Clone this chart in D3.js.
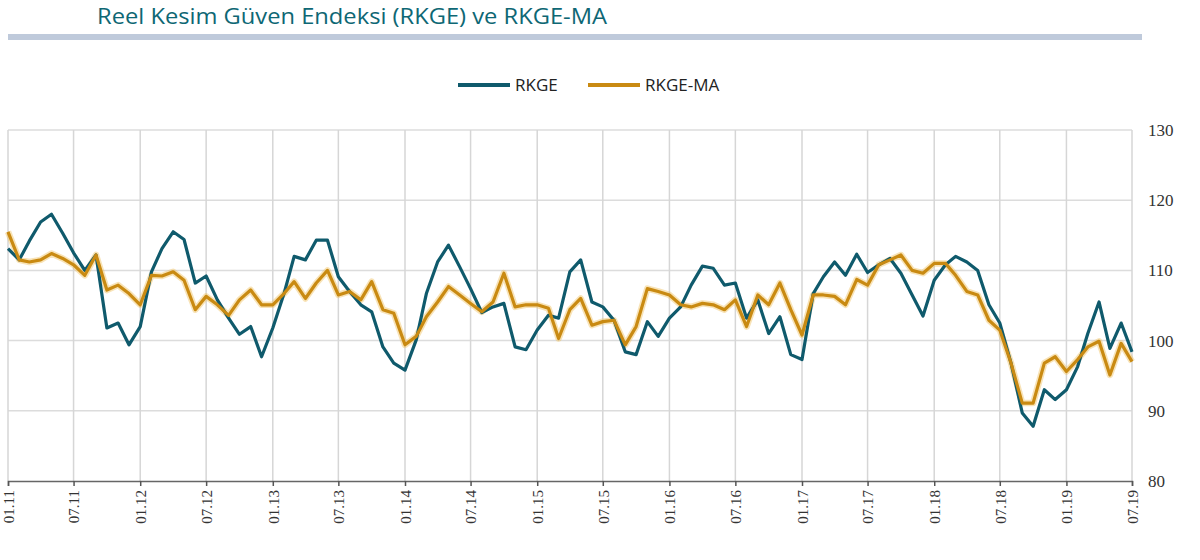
<!DOCTYPE html>
<html lang="tr">
  <head>
    <meta charset="UTF-8" />
    <title>Reel Kesim Güven Endeksi (RKGE) ve RKGE-MA</title>
    <script src="https://d3js.org/d3.v7.min.js"></script>
    <style>
      body { margin: 0; background: #fff; }
    </style>
  </head>
  <body>
    <svg width="1200" height="560"></svg>

    <script>
      // aylar: 01.11 .. 07.19 (103 ay)
      const months = d3.range(103).map((i) => new Date(2011, i, 1));

      const rkge = [
        113.1, 111.5, 114.2, 116.9, 118.0, 115.3, 112.5, 110.0, 112.2, 101.8,
        102.5, 99.4, 102.0, 109.8, 113.1, 115.5, 114.4, 108.2, 109.2, 105.8,
        103.2, 100.9, 102.0, 97.7, 101.8, 106.7, 112.0, 111.5, 114.3, 114.3,
        109.1, 107.0, 105.1, 104.1, 99.1, 96.8, 95.8, 100.1, 106.7, 111.2,
        113.6, 110.5, 107.4, 104.0, 104.8, 105.3, 99.1, 98.7, 101.5, 103.6,
        103.2, 109.8, 111.5, 105.5, 104.8, 102.9, 98.4, 98.0, 102.7, 100.6,
        103.2, 104.8, 107.9, 110.6, 110.3, 107.9, 108.2, 103.2, 105.8, 101.0,
        103.4, 98.0, 97.3, 106.7, 109.1, 111.2, 109.3, 112.3, 109.7, 110.8,
        111.7, 109.6, 106.5, 103.5, 108.6, 110.8, 112.0, 111.2, 110.0, 105.1,
        102.5, 96.8, 89.7, 87.8, 93.0, 91.6, 93.0, 96.3, 101.0, 105.5,
        98.9, 102.5, 98.4
      ];

      const rkgeMa = [
        115.5, 111.5, 111.2, 111.5, 112.4, 111.7, 110.8, 109.3, 112.2, 107.2,
        107.9, 106.7, 105.1, 109.3, 109.2, 109.8, 108.6, 104.4, 106.3, 105.1,
        103.6, 105.8, 107.2, 105.1, 105.1, 106.7, 108.4, 106.0, 108.2, 110.0,
        106.5, 107.0, 105.8, 108.4, 104.4, 103.9, 99.4, 100.6, 103.4, 105.5,
        107.7, 106.5, 105.3, 104.1, 105.5, 109.6, 104.8, 105.1, 105.1, 104.6,
        100.3, 104.4, 106.0, 102.2, 102.7, 102.9, 99.4, 102.0, 107.4, 107.0,
        106.5, 105.1, 104.8, 105.3, 105.1, 104.4, 105.8, 102.0, 106.5, 105.1,
        108.2, 104.4, 100.8, 106.5, 106.5, 106.3, 105.1, 108.7, 107.9, 110.8,
        111.5, 112.2, 110.0, 109.6, 111.0, 111.0, 109.3, 107.0, 106.5, 102.9,
        101.5, 96.8, 91.1, 91.1, 96.8, 97.7, 95.6, 97.3, 99.1, 99.9,
        95.1, 99.6, 97.0
      ];

      const yTicks = [80, 90, 100, 110, 120, 130];
      const seriesNames = ["RKGE", "RKGE-MA"];
      const colors = ["#0f5a6c", "#c98a12"];

      const svg = d3.select("svg");
      const plotLeft = 8, plotRight = 1132, plotTop = 130, plotBottom = 481;

      const x = d3.scaleTime()
        .domain([months[0], months[months.length - 1]])
        .range([plotLeft, plotRight]);
      const y = d3.scaleLinear().domain([80, 130]).range([plotBottom, plotTop]);

      // başlık
      svg.append("text")
        .attr("x", 97)
        .attr("y", 24)
        .attr("font-family", "Open Sans, sans-serif")
        .attr("font-size", 21)
        .attr("textLength", 510)
        .attr("lengthAdjust", "spacingAndGlyphs")
        .attr("fill", "#0e6774")
        .text("Reel Kesim Güven Endeksi (RKGE) ve RKGE-MA");

      svg.append("rect")
        .attr("x", 8).attr("y", 34)
        .attr("width", 1134).attr("height", 6)
        .attr("fill", "#bfcadb");

      // 6 aylık tikler
      const tickDates = months.filter((d, i) => i % 6 === 0);

      // ızgara
      svg.append("g")
        .selectAll("line")
        .data(yTicks.filter((v) => v > 80))
        .join("line")
        .attr("x1", plotLeft).attr("x2", plotRight)
        .attr("y1", (d) => y(d)).attr("y2", (d) => y(d))
        .attr("stroke", "#dcdcdc").attr("stroke-width", 1.5);

      svg.append("g")
        .selectAll("line")
        .data(tickDates)
        .join("line")
        .attr("x1", (d) => x(d)).attr("x2", (d) => x(d))
        .attr("y1", plotTop).attr("y2", plotBottom)
        .attr("stroke", "#d6d6d6").attr("stroke-width", 1.5);

      // x ekseni
      const xAxis = d3.axisBottom(x)
        .tickValues(tickDates)
        .tickSize(5)
        .tickFormat(d3.timeFormat("%m.%y"));

      const gx = svg.append("g")
        .attr("transform", `translate(0,${plotBottom})`)
        .call(xAxis);
      gx.select(".domain").attr("stroke", "#666").attr("stroke-width", 1.5);
      gx.selectAll(".tick line").attr("stroke", "#555").attr("stroke-width", 1.5);
      gx.selectAll(".tick text")
        .attr("font-family", "Liberation Serif, serif")
        .attr("font-size", 15)
        .attr("fill", "#333")
        .attr("text-anchor", "end")
        .attr("dy", "0.35em")
        .attr("transform", "translate(0,9) rotate(-90)")
        .attr("x", 0).attr("y", 0);

      // y ekseni (sağda)
      const gy = svg.append("g")
        .attr("transform", `translate(${plotRight},0)`)
        .call(d3.axisRight(y).tickValues(yTicks).tickSize(0).tickPadding(16));
      gy.select(".domain").remove();
      gy.selectAll(".tick text")
        .attr("font-family", "Liberation Serif, serif")
        .attr("font-size", 17)
        .attr("fill", "#333");

      // çizgiler
      const line = d3.line()
        .x((d, i) => x(months[i]))
        .y((d) => y(d));

      svg.append("path")
        .datum(rkgeMa)
        .attr("d", line)
        .attr("fill", "none")
        .attr("stroke", "#f0c060")
        .attr("stroke-opacity", 0.45)
        .attr("stroke-width", 6.5)
        .attr("stroke-linejoin", "round");

      [rkge, rkgeMa].forEach((s, k) => {
        svg.append("path")
          .datum(s)
          .attr("d", line)
          .attr("fill", "none")
          .attr("stroke", colors[k])
          .attr("stroke-width", 3.2)
          .attr("stroke-linejoin", "round");
      });

      // lejant
      const legendX = [458, 588];
      const lg = svg.append("g")
        .selectAll("g")
        .data(seriesNames)
        .join("g")
        .attr("transform", (d, i) => `translate(${legendX[i]},85)`);
      lg.append("line")
        .attr("x1", 0).attr("x2", 52)
        .attr("stroke", (d, i) => colors[i])
        .attr("stroke-width", 4);
      lg.append("text")
        .attr("x", 57)
        .attr("dy", "0.35em")
        .attr("font-family", "Open Sans, sans-serif")
        .attr("font-size", 17)
        .attr("fill", "#222")
        .text((d) => d);
    </script>
  </body>
</html>
